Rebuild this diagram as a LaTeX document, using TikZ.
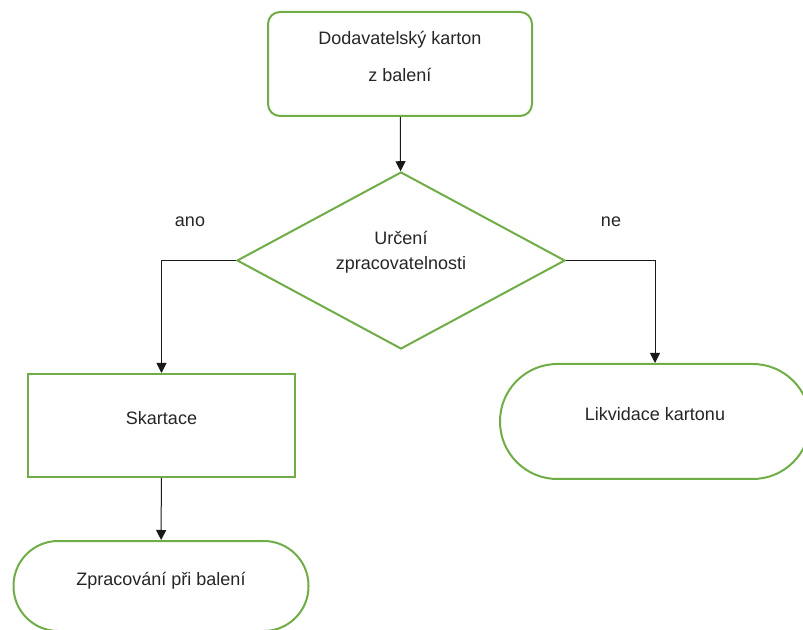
\documentclass[tikz,border=0pt]{standalone}
\usepackage{fontspec}
\setmainfont{Liberation Sans}
\usetikzlibrary{shapes.geometric, arrows.meta}
\definecolor{zelena}{HTML}{70AD47}

\begin{document}
\begin{tikzpicture}[x=0.75pt, y=-0.75pt,
    tvar/.style={draw=zelena, line width=1.5pt, inner sep=0pt, fill=white},
    krabice/.style={tvar, rectangle, rounded corners=9pt, minimum width=198pt, minimum height=78pt},
    kosoctverec/.style={tvar, diamond, minimum width=246pt, minimum height=132.75pt},
    obdelnik/.style={tvar, rectangle, minimum width=200.25pt, minimum height=77.25pt},
    popis/.style={font=\fontsize{13.5}{16}\selectfont, text=black!85, align=center},
    spoj/.style={draw=black!90, line width=0.75pt, -{Triangle[width=7.5pt, length=7.5pt]}}
]

    % --- okraje obrazku ---
    \useasboundingbox (0,0) rectangle (803,630);

    % --- tvary ---
    \node[krabice] (karton) at (400,64) {};
    \node[kosoctverec] (urceni) at (401,260.5) {};
    \node[obdelnik] (skartace) at (161.5,425.5) {};
    \node[tvar, rectangle, rounded corners=33.5pt, minimum width=221.25pt, minimum height=67.5pt] (zprac) at (161,586) {};
    \node[tvar, rectangle, rounded corners=43pt, minimum width=232.5pt, minimum height=86.25pt] (likv) at (655,421.5) {};

    % --- texty ---
    \node[popis] (karton-t) at (400,56.5) {Dodavatelský karton\\[11.75pt]z balení};
    \node[popis] (urceni-t) at (401,252.5) {Určení\\[2.75pt]zpracovatelnosti};
    \node[popis] (skartace-t) at (161.5,418) {Skartace};
    \node[popis] (zprac-t) at (161,581) {Zpracování při balení};
    \node[popis] (likv-t) at (655,414) {Likvidace kartonu};
    \node[popis] (ano) at (190,222) {ano};
    \node[popis] (ne) at (611,222) {ne};

    % --- spojnice ---
    \draw[spoj] (karton) -- (urceni);
    \draw[spoj] (urceni.west) -| (skartace.north);
    \draw[spoj] (urceni.east) -| (likv.north);
    \draw[spoj] (skartace) -- (zprac);

\end{tikzpicture}
\end{document}
